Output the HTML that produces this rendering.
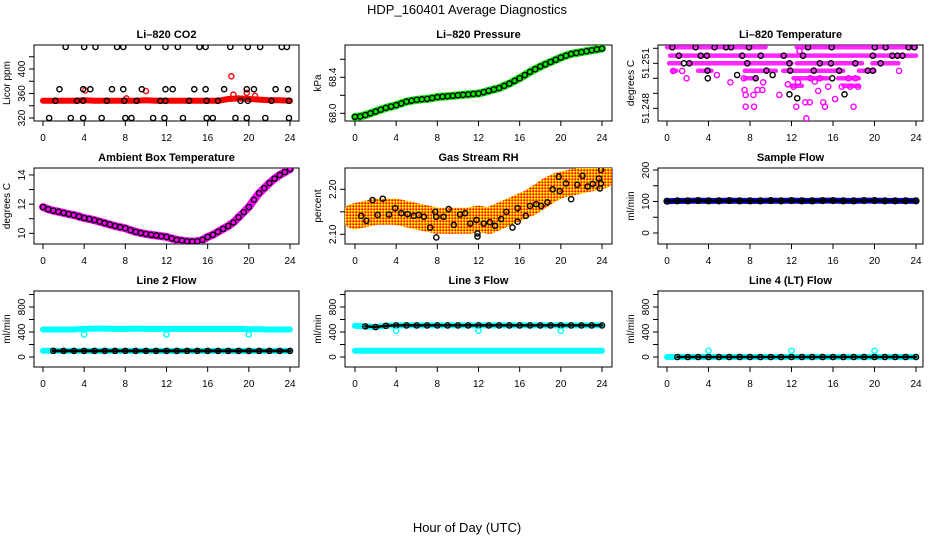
<!DOCTYPE html>
<html><head><meta charset="utf-8"><title>HDP_160401 Average Diagnostics</title>
<style>
html,body{margin:0;padding:0;background:#fff;}
svg{display:block;font-family:"Liberation Sans",Arial,sans-serif;}
</style></head>
<body>
<svg id="chart" width="936" height="540" viewBox="0 0 936 540" xmlns="http://www.w3.org/2000/svg">
<defs>
<pattern id="rhPat" width="3" height="3" patternUnits="userSpaceOnUse">
<rect width="3" height="3" fill="#ff9900"/>
<rect width="1.5" height="1.5" fill="#ffff00"/>
<rect x="1.5" y="1.5" width="1.5" height="1.5" fill="#ff0000"/>
</pattern>
</defs>
<text x="467" y="14" font-size="13" text-anchor="middle">HDP_160401  Average Diagnostics</text>
<text x="467" y="532" font-size="13" text-anchor="middle">Hour of Day (UTC)</text>
</svg>
<script>
// ---------- data ----------
const hourTicks = [0,4,8,12,16,20,24];
const hours25 = [0,1,2,3,4,5,6,7,8,9,10,11,12,13,14,15,16,17,18,19,20,21,22,23,24];
const halfHours = [0,0.5,1,1.5,2,2.5,3,3.5,4,4.5,5,5.5,6,6.5,7,7.5,8,8.5,9,9.5,10,10.5,11,11.5,12,12.5,13,13.5,14,14.5,15,15.5,16,16.5,17,17.5,18,18.5,19,19.5,20,20.5,21,21.5,22,22.5,23,23.5,24];

// CO2
const co2Band = [348,348,348,348,349,348,348,348,348,348,349,348,348,348,348,348,348,348,351,352,351,350,349,349,348];
const co2RedOutX = [4.1,10.0,18.3,18.5,19.8,20.6,8.1];
const co2RedOutY = [365,364,388,358,361,356,352];
const co2TopX = [2.2,4.0,5.1,7.2,7.8,10.2,11.9,13.1,15.2,15.8,18.2,19.9,21.1,23.2,23.7];
const co2MidX = [1.6,3.9,4.6,6.7,7.8,9.6,11.9,12.6,14.7,15.8,17.6,19.8,20.5,22.6,23.8];
const co2LowX = [1.2,3.3,3.9,6.2,7.9,9.1,11.4,11.9,14.2,15.9,17.0,19.2,19.9,22.2,23.9];
const co2BotX = [0.6,2.7,3.9,5.7,8.0,8.6,10.7,11.8,13.6,15.9,16.5,18.7,19.8,21.6,23.9];
const co2Levels = [436,367,348,320];

// Pressure
const pressure = [67.96,67.965,67.98,68.0,68.02,68.04,68.06,68.075,68.09,68.11,68.13,68.14,68.15,68.155,68.16,68.17,68.18,68.185,68.19,68.195,68.2,68.205,68.21,68.215,68.22,68.235,68.25,68.265,68.28,68.305,68.33,68.36,68.39,68.425,68.46,68.49,68.52,68.545,68.57,68.595,68.62,68.64,68.66,68.67,68.68,68.69,68.70,68.71,68.72];

// Li-820 temperature
const ltRowVal = [51.25207,51.25207,51.25151,51.251,51.251,51.251,51.251,51.2505,51.2505,51.2505,51.2505,51.2505,51.25,51.25,51.25,51.2495,51.2495];
const ltRowStart = [0,12.5,0.3,0.2,2.2,12.5,19.8,0.5,3.0,7.5,11.2,18.5,7.5,12.2,16.5,12.0,17.0];
const ltRowEnd = [9.5,24,24,1.3,12,18.8,22.3,0.9,4.3,10.5,17,20,8.5,15.5,18.5,13.0,18.5];
const ltMagX = [0.59,1.46,1.89,4.81,6.11,7.41,7.48,7.58,8.33,8.72,9.2,9.27,7.58,8.39,10.83,11.64,12.2,12.46,12.62,12.78,13.33,13.43,13.76,13.82,14.24,14.57,14.73,15.06,15.22,15.54,16.2,16.85,17.66,17.98,18.41,17.5,18.15,22.37];
const ltMagY = [51.25049,51.25049,51.25,51.25022,51.24973,51.25,51.24922,51.24889,51.24889,51.24922,51.24922,51.24973,51.24811,51.24811,51.24889,51.2496,51.24944,51.24811,51.24973,51.25182,51.2484,51.24733,51.2484,51.25,51.24978,51.24916,51.25,51.2484,51.24811,51.24944,51.24862,51.24944,51.24944,51.24811,51.24944,51.25,51.25,51.25049];
const ltBlkX = [0.52,1.14,1.63,2.15,2.76,3.25,3.84,3.9,3.93,4.59,5.69,6.18,6.76,7.25,7.74,7.9,8.55,9.04,9.59,10.18,11.25,11.8,11.87,11.8,12.55,13.11,13.59,14.15,14.73,15.8,15.87,15.93,16.59,17.11,18.15,19.35,19.84,19.84,20.03,20.59,21.07,21.72,22.21,22.7,23.28,23.84];
const ltBlkY = [51.25207,51.25151,51.251,51.251,51.25207,51.25151,51.25151,51.25051,51.25,51.25207,51.25207,51.25207,51.25022,51.25151,51.251,51.25207,51.25,51.25151,51.25051,51.25022,51.25151,51.251,51.25051,51.24893,51.24867,51.25151,51.25207,51.25051,51.251,51.251,51.25207,51.25,51.25051,51.24893,51.251,51.25051,51.25051,51.25151,51.25207,51.251,51.25207,51.25151,51.25151,51.25151,51.25207,51.25207];

// Ambient box temperature
const ambient = [11.8,11.65,11.55,11.48,11.4,11.32,11.25,11.15,11.05,10.98,10.9,10.8,10.7,10.6,10.5,10.42,10.35,10.22,10.1,10.02,9.95,9.9,9.85,9.8,9.75,9.65,9.55,9.5,9.45,9.43,9.45,9.55,9.75,9.9,10.1,10.3,10.5,10.75,11.1,11.45,11.8,12.3,12.75,13.1,13.45,13.75,14.0,14.2,14.4];

// Gas stream RH
const rhBand = [2.14,2.145,2.15,2.15,2.15,2.145,2.14,2.135,2.13,2.13,2.13,2.13,2.135,2.13,2.14,2.15,2.16,2.17,2.185,2.2,2.21,2.215,2.22,2.225,2.23];
const rhBlkX = [0.6,1.1,1.7,2.2,2.7,3.3,3.9,4.5,5.1,5.7,6.2,6.7,7.3,7.8,7.9,7.9,8.6,9.1,9.6,10.2,10.7,11.2,11.8,11.9,11.9,12.5,13.1,13.6,14.2,14.7,15.3,15.8,15.8,16.6,17.0,17.6,18.1,18.7,19.2,19.8,19.9,20.5,21.0,21.6,22.1,22.6,23.1,23.7,23.8,23.9,23.9];
const rhBlkY = [2.141,2.130,2.176,2.143,2.179,2.144,2.158,2.147,2.145,2.141,2.143,2.139,2.115,2.150,2.139,2.093,2.139,2.156,2.121,2.144,2.147,2.124,2.132,2.102,2.095,2.124,2.127,2.119,2.134,2.150,2.115,2.158,2.128,2.141,2.163,2.167,2.163,2.171,2.200,2.228,2.196,2.213,2.178,2.210,2.230,2.206,2.212,2.224,2.202,2.243,2.213];

// Flows (hourly)
const sampleFlow = [101,102,102,103,102,102,103,102,102,102,103,102,103,102,102,103,103,102,102,103,103,102,102,102,102];
const line2Upper = [440,440,440,440,450,455,455,450,450,455,450,450,450,450,450,450,450,450,450,450,445,445,440,440,440];
const line2Lower = [100,98,98,98,98,98,98,98,98,98,98,98,98,98,98,98,98,98,98,98,98,98,98,98,98];
const line2OutX = [4,12,20];
const line2OutY = [360,360,360];
const line3Upper = [500,490,480,500,505,505,505,505,505,505,505,505,505,505,505,505,505,505,505,505,505,505,505,505,505];
const line3Lower = [100,100,100,100,100,100,100,100,100,100,100,100,100,100,100,100,100,100,100,100,100,100,100,100,100];
const line3OutX = [4,12,20];
const line3OutY = [420,420,420];
const line4Vals = [0,0,0,0,0,0,0,0,0,0,0,0,0,0,0,0,0,0,0,0,0,0,0,0,0];
const line4OutX = [4,12,20];
const line4OutY = [100,100,100];

// ---------- layout ----------
const NS = "http://www.w3.org/2000/svg";
const svg = document.getElementById('chart');
const colL = [34,345,658], colR = [299,612,923], colX0 = [43,355,667], colX1 = [290,602,916];
const rowT = [45,168,291], rowB = [121,244,367];

function mk(tag, attrs, parent){
  const e = document.createElementNS(NS, tag);
  for (const k in attrs) e.setAttribute(k, attrs[k]);
  (parent||svg).appendChild(e);
  return e;
}

function panel(name, r, c, title, ylab, y0px, v0, pxPerUnit, ticks, labels){
  const g = mk('g', {});
  
  
  const L = colL[c], R = colR[c], T = rowT[r], B = rowB[r];
  const xs = h => colX0[c] + (colX1[c]-colX0[c]) * h / 24;
  const ys = v => y0px - (v - v0) * pxPerUnit;
  const box = mk('rect', {x:L, y:T, width:R-L, height:B-T, fill:'none', stroke:'#000', 'stroke-width':1}, g);
  
  
  const t = mk('text', {x:(L+R)/2, y:T-7, 'font-size':11, 'font-weight':'bold', 'text-anchor':'middle'}, g);
  t.textContent = title;
  
  
  const xa = mk('g', {}, g);
  
  
  mk('line', {x1:xs(0), x2:xs(24), y1:B, y2:B, stroke:'#000'}, xa);
  hourTicks.forEach(h => {
    mk('line', {x1:xs(h), x2:xs(h), y1:B, y2:B+5, stroke:'#000'}, xa);
    const tl = mk('text', {x:xs(h), y:B+20, 'font-size':10, 'text-anchor':'middle'}, xa);
    tl.textContent = String(h);
    
    
  });
  const ya = mk('g', {}, g);
  
  
  mk('line', {x1:L, x2:L, y1:ys(ticks[0]), y2:ys(ticks[ticks.length-1]), stroke:'#000'}, ya);
  ticks.forEach((v,i) => {
    const y = ys(v);
    mk('line', {x1:L-5, x2:L, y1:y, y2:y, stroke:'#000'}, ya);
    if (labels[i]) {
      const yl = mk('text', {x:0, y:0, 'font-size':10, 'text-anchor':'middle', transform:`translate(${L-9},${y}) rotate(-90)`}, ya);
      yl.textContent = labels[i];
      
      
    }
  });
  const yt = mk('text', {x:0, y:0, 'font-size':10, 'text-anchor':'middle', transform:`translate(${L-24},${(T+B)/2}) rotate(-90)`}, g);
  yt.textContent = ylab;
  
  
  const clip = mk('clipPath', {id:'clip-'+name}, g);
  mk('rect', {x:L, y:T, width:R-L, height:B-T}, clip);
  const plot = mk('g', {'clip-path':`url(#clip-${name})`}, g);
  
  
  return {g:plot, xs, ys};
}

function pts(P, xArr, yArr, color, label, r, sw){
  for (let i=0;i<xArr.length;i++){
    const e = mk('circle', {cx:P.xs(xArr[i]), cy:P.ys(yArr[i]), r:r||2.6, fill:'none', stroke:color, 'stroke-width':sw||1.4}, P.g);
    
    
  }
}
function band(P, xArr, yArr, color, width, label){
  const d = xArr.map((h,i)=>(i?'L':'M')+P.xs(h).toFixed(1)+','+P.ys(yArr[i]).toFixed(1)).join(' ');
  const e = mk('path', {d, fill:'none', stroke:color, 'stroke-width':width, 'stroke-linejoin':'round', 'stroke-linecap':'round'}, P.g);
  
  
  return e;
}
const fill = (arr, v) => arr.map(()=>v);

// Panel 1 CO2
let P = panel('co2', 0, 0, 'Li\u2013820 CO2', 'Licor ppm', 118, 320, 0.6125, [320,340,360,380,400,420], ['320','','360','','400','']);
band(P, hours25, co2Band, '#ff0000', 6, 'co2-red-band');
pts(P, co2RedOutX, co2RedOutY, '#ff0000', 'co2-red-point');
pts(P, co2TopX, fill(co2TopX, co2Levels[0]), '#000', 'co2-black-point');
pts(P, co2MidX, fill(co2MidX, co2Levels[1]), '#000', 'co2-black-point');
pts(P, co2LowX, fill(co2LowX, co2Levels[2]), '#000', 'co2-black-point');
pts(P, co2BotX, fill(co2BotX, co2Levels[3]), '#000', 'co2-black-point');

// Panel 2 Pressure
P = panel('pressure', 0, 1, 'Li\u2013820 Pressure', 'kPa', 113.3, 68.0, 90, [68.0,68.2,68.4,68.6], ['68.0','','68.4','']);
band(P, halfHours, pressure, '#00ee00', 8, 'pressure-green-band');
pts(P, halfHours, pressure, '#000', 'pressure-black-point');

// Panel 3 Li-820 temperature
P = panel('li820-temp', 0, 2, 'Li\u2013820 Temperature', 'degrees C', 108.3, 51.248, 15000, [51.248,51.249,51.25,51.251,51.252], ['51.248','','','51.251','']);
for (let i=0;i<ltRowVal.length;i++){
  const e = band(P, [ltRowStart[i], ltRowEnd[i]], [ltRowVal[i], ltRowVal[i]], '#ff00ff', 4.5, 'li820-temp-magenta-run');
  e.setAttribute('stroke-opacity', '0.85');
}
pts(P, ltMagX, ltMagY, '#ff00ff', 'li820-temp-magenta-point');
pts(P, ltBlkX, ltBlkY, '#000', 'li820-temp-black-point');

// Panel 4 Ambient
P = panel('ambient-temp', 1, 0, 'Ambient Box Temperature', 'degrees C', 233.3, 10, 14.58, [10,11,12,13,14], ['10','','12','','14']);
band(P, halfHours, ambient, '#ff00ff', 8, 'ambient-magenta-band');
pts(P, halfHours, ambient, '#000', 'ambient-black-point');

// Panel 5 RH
P = panel('gas-rh', 1, 1, 'Gas Stream RH', 'percent', 234.3, 2.10, 450, [2.10,2.15,2.20], ['2.10','','2.20']);
band(P, hours25, rhBand, 'url(#rhPat)', 26, 'rh-orange-band');
pts(P, rhBlkX, rhBlkY, '#000', 'rh-black-point');

// Panel 6 Sample flow
P = panel('sample-flow', 1, 2, 'Sample Flow', 'ml/min', 233, 0, 0.315, [0,50,100,150,200], ['0','','100','','200']);
band(P, hours25, sampleFlow, '#0000ff', 6, 'sample-flow-blue-band');
band(P, hours25, sampleFlow, '#000', 3, 'sample-flow-black-band');
pts(P, hours25, sampleFlow, '#000', 'sample-flow-black-point', 2.8, 1.6);

// Panel 7 Line 2
const flowTicks = [0,200,400,600,800,1000], flowLabels = ['0','','400','','800',''];
P = panel('line2-flow', 2, 0, 'Line 2 Flow', 'ml/min', 357, 0, 0.0625, flowTicks, flowLabels);
band(P, hours25, line2Upper, '#00ffff', 6, 'line2-cyan-band');
band(P, hours25, line2Lower, '#00ffff', 6, 'line2-cyan-lower-band');
band(P, hours25.slice(1), line2Lower.slice(1), '#000', 3, 'line2-black-band');
pts(P, hours25.slice(1), line2Lower.slice(1), '#000', 'line2-black-point');
pts(P, line2OutX, line2OutY, '#00ffff', 'line2-cyan-outlier');

// Panel 8 Line 3
P = panel('line3-flow', 2, 1, 'Line 3 Flow', 'ml/min', 357, 0, 0.0625, flowTicks, flowLabels);
band(P, hours25, line3Lower, '#00ffff', 6, 'line3-cyan-lower-band');
band(P, hours25, line3Upper, '#00ffff', 6, 'line3-cyan-band');
band(P, hours25.slice(1), line3Upper.slice(1), '#000', 2.5, 'line3-black-band');
pts(P, hours25.slice(1), line3Upper.slice(1), '#000', 'line3-black-point');
pts(P, line3OutX, line3OutY, '#00ffff', 'line3-cyan-outlier');

// Panel 9 Line 4
P = panel('line4-flow', 2, 2, 'Line 4 (LT) Flow', 'ml/min', 357, 0, 0.0625, flowTicks, flowLabels);
band(P, hours25, line4Vals, '#00ffff', 6, 'line4-cyan-band');
band(P, hours25.slice(1), line4Vals.slice(1), '#000', 2.5, 'line4-black-band');
pts(P, hours25.slice(1), line4Vals.slice(1), '#000', 'line4-black-point');
pts(P, line4OutX, line4OutY, '#00ffff', 'line4-cyan-outlier');
</script>
</body></html>
